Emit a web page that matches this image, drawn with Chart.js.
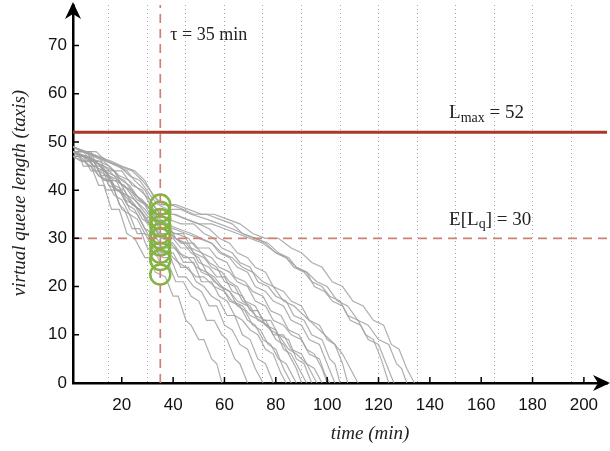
<!DOCTYPE html>
<html>
<head>
<meta charset="utf-8">
<script src="https://cdn.jsdelivr.net/npm/chart.js@4"></script>
<style>
  html, body { margin: 0; padding: 0; background: #fff; }
  #queueChart { display: block; width: 610px; height: 451px; }
</style>
</head>
<body>
<canvas id="queueChart" width="610" height="451"></canvas>
<script>
// reference levels
const tau = 35;
const lMax = 52;
const expectedLq = 30;

// queue length of the runs at t = tau (green circles)
const queueAtTau = [37, 35.5, 34, 32.5, 31, 30, 28.5, 27, 25.5, 22.5];

// simulated runs: [time (min), virtual queue length]
const run01 = [[1,48],[3,48],[5,45],[8,45],[11,41],[13,41],[16,36],[19,36],[22,31],[25,30],[29,26],[31,26],[33,23],[37,22],[40,18],[42,18],[45,13],[47,12],[50,9],[52,9],[55,5],[57,4],[59,0]];
const run02 = [[1,48],[4,47],[7,45],[10,45],[13,42],[16,42],[19,37],[21,36],[24,32],[27,32],[30,28],[33,27],[35,25],[38,25],[41,21],[44,21],[47,18],[50,17],[53,13],[56,13],[59,10],[61,9],[64,5],[66,4],[69,0]];
const run03 = [[1,47],[5,47],[8,44],[11,44],[14,40],[17,40],[20,36],[23,35],[26,31],[29,31],[32,28],[36,26],[39,26],[42,22],[45,22],[48,20],[51,19],[54,16],[57,16],[60,12],[63,11],[66,8],[69,7],[72,3],[75,0]];
const run04 = [[1,48],[6,47],[9,45],[12,45],[15,41],[19,40],[22,37],[25,36],[28,33],[30,31],[33,28],[36,27],[40,27],[43,24],[46,24],[49,21],[52,20],[55,18],[58,17],[61,14],[64,14],[67,10],[70,9],[73,5],[76,4],[79,0]];
const run05 = [[1,49],[5,48],[8,46],[12,46],[15,42],[18,42],[21,38],[25,37],[28,34],[31,33],[33,29],[37,28],[41,28],[44,25],[48,25],[51,21],[55,21],[58,18],[61,17],[64,14],[67,13],[70,11],[73,10],[76,7],[79,6],[82,2],[84,0]];
const run06 = [[1,48],[4,47],[8,47],[11,44],[14,44],[17,40],[20,40],[23,36],[26,35],[29,32],[32,31],[35,29],[39,29],[42,27],[46,26],[49,24],[53,23],[56,21],[59,20],[62,17],[66,16],[69,13],[72,12],[75,9],[78,8],[81,5],[84,4],[86,2],[88,0]];
const run07 = [[1,47],[5,46],[9,46],[12,43],[15,43],[18,40],[21,39],[24,37],[27,36],[30,33],[33,32],[35,30],[40,30],[43,28],[47,28],[50,25],[54,24],[57,22],[60,22],[63,19],[67,18],[70,15],[73,15],[76,12],[80,11],[83,7],[86,6],[89,3],[92,0]];
const run08 = [[1,48],[6,48],[9,46],[12,45],[15,43],[19,42],[22,39],[25,38],[28,36],[31,34],[34,31],[38,31],[41,30],[45,29],[48,27],[52,26],[55,24],[59,23],[62,21],[65,20],[68,17],[72,16],[75,13],[78,13],[81,10],[85,9],[88,5],[91,4],[94,0]];
const run09 = [[1,49],[4,48],[8,48],[11,44],[14,43],[17,41],[21,40],[24,37],[27,36],[30,34],[33,31],[36,30],[40,29],[44,26],[48,26],[51,23],[55,22],[58,20],[62,19],[65,17],[69,16],[72,14],[76,13],[79,10],[83,10],[86,7],[90,6],[93,3],[96,0]];
const run10 = [[1,48],[6,47],[10,46],[13,44],[17,44],[20,41],[23,40],[26,38],[29,37],[32,34],[36,32],[41,31],[46,30],[49,28],[54,28],[57,26],[61,25],[64,22],[68,21],[71,19],[75,18],[78,15],[82,14],[85,11],[89,10],[92,7],[95,6],[98,3],[100,0]];
const run11 = [[1,47],[4,46],[8,46],[11,43],[15,42],[18,40],[22,39],[25,37],[28,35],[31,33],[35,31],[39,31],[43,29],[48,29],[51,27],[55,26],[58,24],[62,23],[65,21],[69,20],[72,17],[76,16],[79,13],[83,12],[86,10],[90,9],[93,6],[97,5],[99,2],[101,0]];
const run12 = [[1,48],[5,47],[9,46],[13,45],[17,44],[20,42],[23,41],[27,38],[30,37],[33,34],[37,33],[42,32],[47,31],[51,30],[55,29],[58,27],[62,26],[65,24],[69,23],[72,20],[76,19],[79,17],[83,16],[86,13],[90,12],[93,9],[97,8],[100,4],[103,0]];
const run13 = [[1,48],[5,48],[9,47],[13,46],[17,44],[20,44],[24,41],[28,40],[31,37],[34,35],[38,34],[43,33],[48,33],[52,31],[56,30],[59,28],[63,27],[66,25],[70,24],[73,21],[77,20],[80,18],[84,17],[87,14],[91,13],[94,10],[98,9],[101,5],[103,4],[105,0]];
const run14 = [[1,49],[6,48],[10,47],[14,46],[18,45],[22,44],[25,42],[29,40],[32,37],[35,35],[41,35],[45,34],[50,33],[54,32],[58,30],[62,29],[65,27],[69,26],[72,24],[76,23],[79,20],[83,19],[86,17],[90,16],[93,13],[97,12],[100,9],[103,8],[106,4],[108,0]];
const run15 = [[1,48],[5,46],[8,45],[11,43],[14,42],[17,39],[20,38],[23,35],[26,34],[29,31],[32,30],[34,27],[38,27],[42,25],[45,24],[49,22],[52,22],[56,20],[60,19],[63,17],[67,16],[70,14],[74,13],[78,11],[81,10],[85,7],[88,6],[92,4],[95,3],[98,0]];
const run16 = [[1,48],[6,47],[10,46],[13,44],[17,43],[20,41],[24,40],[27,38],[31,36],[34,34],[37,33],[40,31],[44,31],[47,28],[51,27],[54,25],[57,24],[60,21],[64,20],[67,17],[70,16],[73,13],[77,12],[80,9],[83,8],[86,5],[88,3],[90,0]];
const run17 = [[1,49],[5,48],[10,48],[14,46],[19,45],[23,43],[27,42],[31,39],[34,37],[38,36],[43,36],[47,35],[53,34],[58,33],[63,32],[67,31],[72,30],[76,29],[80,27],[84,26],[87,24],[91,23],[94,21],[98,20],[101,18],[105,17],[108,14],[112,13],[115,10],[118,9],[121,5],[124,0]];
const run18 = [[1,48],[5,48],[10,47],[15,46],[19,45],[24,44],[28,42],[31,40],[35,37],[39,37],[44,36],[48,35],[53,35],[58,34],[63,33],[67,31],[72,30],[77,29],[81,27],[85,26],[88,24],[92,23],[95,20],[99,19],[102,17],[106,16],[109,13],[113,12],[116,9],[120,8],[123,4],[126,0]];
const run19 = [[1,48],[6,47],[11,46],[15,45],[19,43],[23,42],[27,40],[31,38],[35,35],[40,35],[45,34],[50,33],[55,33],[60,32],[65,31],[70,30],[75,29],[80,27],[84,26],[88,24],[92,23],[96,21],[100,20],[104,17],[108,16],[112,13],[116,12],[120,9],[124,8],[127,4],[129,3],[131,0]];
const run20 = [[1,49],[6,48],[11,47],[16,46],[20,45],[25,44],[29,42],[32,39],[36,37],[41,37],[46,36],[51,35],[56,35],[61,34],[66,33],[71,31],[76,30],[81,30],[86,28],[90,27],[94,25],[98,24],[102,21],[106,20],[110,17],[114,16],[118,13],[122,12],[125,8],[128,7],[131,3],[134,0]];
const run21 = [[1,47],[5,47],[9,46],[13,45],[17,43],[21,42],[25,39],[28,38],[31,36],[35,34],[38,33],[41,30],[44,29],[47,27],[50,26],[53,23],[56,22],[59,20],[62,19],[65,16],[68,15],[71,12],[74,11],[77,8],[80,7],[83,3],[86,0]];
const run22 = [[1,48],[5,47],[9,45],[13,44],[17,42],[21,41],[25,38],[29,36],[32,34],[35,32],[40,32],[45,31],[50,30],[55,29],[59,27],[63,26],[67,24],[71,23],[75,21],[79,20],[83,17],[87,16],[91,14],[95,12],[99,10],[103,8],[106,6],[109,3],[112,0]];

const runs = [run01, run02, run03, run04, run05, run06, run07, run08, run09, run10, run11,
  run12, run13, run14, run15, run16, run17, run18, run19, run20, run21, run22];

const xMin = 1, xMax = 209;
const yMin = 0, yMax = 78.4;

const lineDash = [9, 6];
const dashRed = "#cd8273";
const darkRed = "#a8392a";
const green = "#84b441";

const runSets = runs.map(r => ({
  data: r.map(p => ({ x: p[0], y: p[1] })),
  borderColor: "rgba(160,160,160,0.85)",
  borderWidth: 1.2,
  pointRadius: 0,
  order: 10
}));

// axis arrows, inner tick marks, annotation texts and axis titles
const decor = {
  id: "decor",
  afterDraw(chart) {
    const { ctx, chartArea: a, scales } = chart;
    const x = scales.x, y = scales.y;
    ctx.save();
    ctx.strokeStyle = "#000";
    ctx.fillStyle = "#000";
    ctx.lineWidth = 2.5;
    ctx.beginPath();
    ctx.moveTo(a.left, a.top); ctx.lineTo(a.left, 10);
    ctx.moveTo(a.right, a.bottom); ctx.lineTo(600, a.bottom);
    ctx.stroke();
    const arrow = (tx, ty, dx, dy) => {
      const len = 17, half = 8, notch = 5;
      const px = -dy, py = dx;
      const bx = tx - dx * len, by = ty - dy * len;
      ctx.beginPath();
      ctx.moveTo(tx, ty);
      ctx.lineTo(bx + px * half, by + py * half);
      ctx.lineTo(tx - dx * (len - notch), ty - dy * (len - notch));
      ctx.lineTo(bx - px * half, by - py * half);
      ctx.closePath();
      ctx.fill();
    };
    arrow(a.left, 2, 0, -1);
    arrow(610, a.bottom, 1, 0);

    // ticks drawn inside the plot
    ctx.lineWidth = 1.5;
    ctx.beginPath();
    x.ticks.forEach(t => {
      const px = x.getPixelForValue(t.value);
      ctx.moveTo(px, a.bottom); ctx.lineTo(px, a.bottom - 6);
    });
    y.ticks.forEach(t => {
      if (t.value === 0) return;
      const py = y.getPixelForValue(t.value);
      ctx.moveTo(a.left, py); ctx.lineTo(a.left + 6, py);
    });
    ctx.stroke();

    // annotations
    ctx.fillStyle = "#222";
    ctx.textBaseline = "alphabetic";
    ctx.textAlign = "left";
    const serif = "'Liberation Serif', 'DejaVu Serif', serif";
    ctx.font = "18px " + serif;
    ctx.fillText("\u03c4 = 35 min", x.getPixelForValue(tau) + 10, 40);

    const lx = x.getPixelForValue(147.5);
    let py = y.getPixelForValue(lMax) - 14;
    ctx.font = "19px " + serif;
    ctx.fillText("L", lx, py);
    let w = ctx.measureText("L").width;
    ctx.font = "14px " + serif;
    ctx.fillText("max", lx + w, py + 4);
    w += ctx.measureText("max").width;
    ctx.font = "19px " + serif;
    ctx.fillText(" = 52", lx + w, py);

    py = y.getPixelForValue(expectedLq) - 13;
    ctx.fillText("E[L", lx, py);
    w = ctx.measureText("E[L").width;
    ctx.font = "14px " + serif;
    ctx.fillText("q", lx + w, py + 3);
    w += ctx.measureText("q").width;
    ctx.font = "19px " + serif;
    ctx.fillText("] = 30", lx + w, py);

    // axis titles
    ctx.font = "italic 19px " + serif;
    ctx.textAlign = "center";
    ctx.fillText("time (min)", 370, 439);
    ctx.translate(25, 193);
    ctx.rotate(-Math.PI / 2);
    ctx.fillText("virtual queue length (taxis)", 0, 0);
    ctx.restore();
  }
};

new Chart(document.getElementById("queueChart"), {
  type: "line",
  data: {
    datasets: [
      {
        data: [{ x: xMin, y: lMax }, { x: xMax, y: lMax }],
        borderColor: darkRed, borderWidth: 3, pointRadius: 0, order: 1
      },
      {
        data: [{ x: xMin, y: expectedLq }, { x: xMax, y: expectedLq }],
        borderColor: dashRed, borderWidth: 1.7, borderDash: lineDash, pointRadius: 0, order: 2
      },
      {
        data: [{ x: tau, y: yMin }, { x: tau, y: yMax }],
        borderColor: dashRed, borderWidth: 1.7, borderDash: lineDash, pointRadius: 0, order: 2
      },
      {
        data: queueAtTau.map(v => ({ x: tau, y: v })),
        showLine: false,
        pointStyle: "circle",
        pointRadius: 10,
        pointBorderWidth: 2.5,
        pointBorderColor: green,
        pointBackgroundColor: "rgba(0,0,0,0)",
        order: 4
      },
      ...runSets
    ]
  },
  options: {
    responsive: false,
    animation: false,
    layout: { autoPadding: false, padding: { top: 5, right: 3, left: 0, bottom: 0 } },
    plugins: { legend: { display: false }, tooltip: { enabled: false } },
    elements: { line: { tension: 0 } },
    scales: {
      x: {
        type: "linear", position: "bottom", min: xMin, max: xMax,
        afterFit: s => { s.height = 68; s.paddingLeft = 0; s.paddingRight = 0; },
        grid: { display: false, drawTicks: false },
        border: { display: true, color: "#000", width: 2.5 },
        ticks: {
          stepSize: 20, includeBounds: false, padding: 12, maxRotation: 0, autoSkip: false,
          color: "#111", font: { family: "'Liberation Sans', Arial, sans-serif", size: 17 }
        }
      },
      xg: {
        type: "linear", position: "top", min: xMin, max: xMax,
        afterFit: s => { s.height = 0; s.paddingLeft = 0; s.paddingRight = 0; },
        ticks: { display: false, stepSize: 15, includeBounds: false },
        grid: { color: "#a8a8a8", lineWidth: 1, drawTicks: false },
        border: { display: false, dash: [1, 3] }
      },
      y: {
        type: "linear", min: yMin, max: yMax,
        afterFit: s => { s.width = 73; s.paddingTop = 0; s.paddingBottom = 0; },
        grid: { display: false, drawTicks: false },
        border: { display: true, color: "#000", width: 2.5 },
        ticks: {
          stepSize: 10, includeBounds: false, padding: 6,
          color: "#111", font: { family: "'Liberation Sans', Arial, sans-serif", size: 17 }
        }
      }
    }
  },
  plugins: [decor]
});
</script>
</body>
</html>
